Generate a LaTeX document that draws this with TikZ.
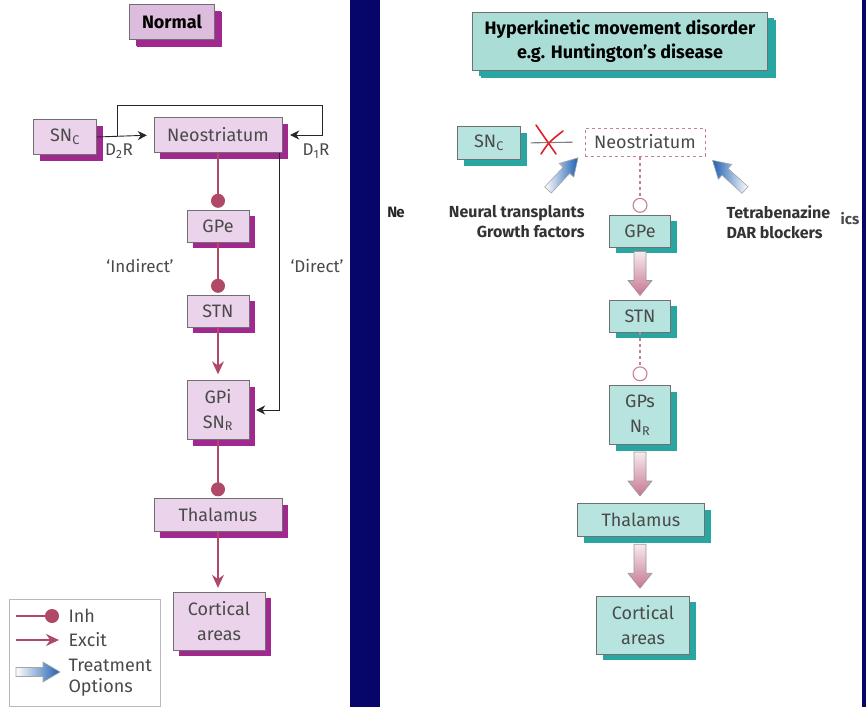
\documentclass[tikz,border=0pt]{standalone}
\usepackage{fontspec}
\setmainfont{Fira Sans}
\usetikzlibrary{shadows,arrows.meta,calc}
\definecolor{lilac}{HTML}{EBD4EB}
\definecolor{lilactop}{HTML}{DDBDDD}
\definecolor{lilacdark}{HTML}{A0288E}
\definecolor{aqua}{HTML}{B7E4DF}
\definecolor{aquatop}{HTML}{A9DDD6}
\definecolor{aquadark}{HTML}{2AA6A2}
\definecolor{rose}{HTML}{B04868}
\definecolor{rosedeep}{HTML}{C87590}
\definecolor{tblue}{HTML}{1F5FB0}
\definecolor{navy}{HTML}{06066A}
\definecolor{boxline}{HTML}{707070}
\definecolor{labelgray}{HTML}{4A4A4A}
\definecolor{crossred}{HTML}{E0202A}

\begin{document}
\begin{tikzpicture}[x=1pt,y=-1pt,font=\fontsize{18}{25}\selectfont]
\tikzstyle{pbox}=[draw=boxline,fill=lilac,text=labelgray,align=center,inner sep=0pt,
  drop shadow={shadow xshift=6pt,shadow yshift=-6pt,fill=lilacdark,opacity=1}]
\tikzstyle{abox}=[draw=boxline,fill=aqua,text=labelgray,align=center,inner sep=0pt,
  drop shadow={shadow xshift=6pt,shadow yshift=-6pt,fill=aquadark,opacity=1}]
\tikzstyle{inh}=[draw=rose,line width=1.3pt,-{Circle[length=14pt,fill=rose]},shorten >=2pt]
\tikzstyle{exc}=[draw=rose,line width=1.3pt,-{Stealth[length=13pt,width=12pt]}]
\tikzstyle{feed}=[draw=black!85,line width=0.9pt,-{Stealth[length=9pt,width=9pt]}]
\tikzstyle{lost}=[draw=rose!70,dashed,line width=1.1pt,-{Circle[open,length=15pt,width=15pt,fill=white]},shorten >=2pt]
\tikzstyle{note}=[text=labelgray,font=\fontsize{17}{20}\selectfont]
\tikzstyle{cure}=[font=\fontsize{16}{20}\selectfont\bfseries,text=black!80]
\tikzset{
  pics/treat/.style={code={
    \shade[#1,draw=gray!70,line width=0.6pt] (0,-4.5) -- (27,-4.5) -- (27,-10) -- (44,0)
      -- (27,10) -- (27,4.5) -- (0,4.5) -- cycle;}},
  pics/fat/.style={code={
    \shade[top color=white!85!rosedeep,bottom color=rosedeep,draw=gray!80,line width=0.6pt]
      (-6,-22) -- (6,-22) -- (6,7) -- (12,7) -- (0,22) -- (-12,7) -- (-6,7) -- cycle;}}
}
\fill[white] (0,0) rectangle (866,707);
\useasboundingbox (0,0) rectangle (866,707);
\fill[navy] (350,0) rectangle (380,707);
\fill[navy] (862,0) rectangle (866,707);

% normal
\node[pbox,fill=lilactop,text=black,font=\fontsize{18}{20}\selectfont\bfseries,minimum width=85pt,minimum height=35pt,
  drop shadow={shadow xshift=7pt,shadow yshift=-7pt,fill=lilacdark,opacity=1}] (normal) at (172,22) {Normal};
\node[pbox,minimum width=63pt,minimum height=35pt] (snc) at (65,137) {SN\textsubscript{C}};
\node[pbox,minimum width=128pt,minimum height=35pt] (neo) at (218,135) {Neostriatum};
\node[pbox,minimum width=62pt,minimum height=32pt] (gpe) at (218,226) {GPe};
\node[pbox,minimum width=62pt,minimum height=32pt] (stn) at (218,311) {STN};
\node[pbox,minimum width=62pt,minimum height=59pt] (gpi) at (218,410) {GPi\\SN\textsubscript{R}};
\node[pbox,minimum width=128pt,minimum height=33pt] (thal) at (218,515) {Thalamus};
\node[pbox,minimum width=92pt,minimum height=58pt] (cort) at (219,621) {Cortical\\areas};

\coordinate (split) at (117,136);
\coordinate (looptop) at (322,105);
\draw[feed,shorten >=7pt] (snc.east) -- (neo.west);
\draw[feed,shorten >=8pt] (split) |- (looptop) |- (neo.east);
\draw[feed,shorten >=7pt] ([xshift=-3pt]neo.south east) |- (gpi.east);
\node[note] (d2) at (119,151) {D\textsubscript{2}R};
\node[note] (d1) at (316,151) {D\textsubscript{1}R};
\node[note] (indir) at (140,266) {‘Indirect’};
\node[note] (dir) at (317,266) {‘Direct’};

\draw[inh] (neo.south) -- (gpe.north);
\draw[inh] (gpe.south) -- (stn.north);
\draw[exc,shorten >=6pt] (stn.south) -- (gpi.north);
\draw[inh] (gpi.south) -- (thal.north);
\draw[exc,shorten >=4pt] (thal.south) -- (thal.south |- cort.north);

% legend
\node[draw=gray!55,line width=0.8pt,minimum width=151pt,minimum height=107pt] (legend) at (84.5,652.5) {};
\node[anchor=west,text=labelgray] (linh) at (65,616) {Inh};
\node[anchor=west,text=labelgray] (lexc) at (65,640) {Excit};
\node[anchor=west,text=labelgray,align=left,font=\fontsize{18}{21}\selectfont] (ltreat) at (65,678) {Treatment\\Options};
\draw[inh,shorten >=6pt] ($(linh.west)+(-49,0)$) -- (linh.west);
\draw[exc,shorten >=6pt] ($(lexc.west)+(-49,0)$) -- (lexc.west);
\pic at (16,672) {treat={left color=white,right color=tblue}};

% leftovers of the slide below
\node[font=\fontsize{15}{16}\selectfont\bfseries,text=black!85] (ne) at (396,212) {N\kern-1pt e};
\node[font=\fontsize{15}{16}\selectfont\bfseries,text=labelgray] (ics) at (850,219) {ics};

% hyperkinetic
\node[abox,fill=aquatop,text=black,font=\fontsize{18}{24}\selectfont\bfseries,minimum width=295pt,minimum height=58pt,
  drop shadow={shadow xshift=8pt,shadow yshift=-8pt,fill=aquadark,opacity=1}] (hyper) at (620,41)
  {Hyperkinetic movement disorder\\e.g. Huntington's disease};
\node[abox,minimum width=63pt,minimum height=33pt] (snc2) at (489,143) {SN\textsubscript{C}};
\node[draw=rose!70,dashed,line width=1pt,text=labelgray,minimum width=120pt,minimum height=28pt,inner sep=0pt] (neo2) at (645,142) {Neostriatum};
\node[abox,minimum width=61pt,minimum height=32pt] (gpe2) at (640,231) {GPe};
\node[abox,minimum width=61pt,minimum height=32pt] (stn2) at (640,316) {STN};
\node[abox,minimum width=61pt,minimum height=59pt] (gps2) at (640,415) {GPs\\N\textsubscript{R}};
\node[abox,minimum width=127pt,minimum height=33pt] (thal2) at (641,520) {Thalamus};
\node[abox,minimum width=93pt,minimum height=58pt] (cort2) at (643,625) {Cortical\\areas};

\draw[gray,line width=1.1pt,shorten <=10pt,shorten >=12pt] (snc2.east) -- (neo2.west);
\draw[crossred,line width=1.6pt,line cap=round] (536,125) -- (556,154);
\draw[crossred,line width=1.6pt,line cap=round] (541,154) .. controls (549,142) .. (563,131);

\draw[lost] (neo2.south -| gpe2.north) -- (gpe2.north);
\draw[lost,shorten >=4pt] (stn2.south) -- (gps2.north);
\pic at ($(gpe2.south)!.5!(stn2.north)$) {fat};
\pic at ($(gps2.south)!.5!(gps2.south |- thal2.north)$) {fat};
\pic at ($(gps2.south |- thal2.south)!.5!(gps2.south |- cort2.north)$) {fat};

\pic[rotate=47] at (548,190) {treat={left color=white,right color=tblue}};
\pic[rotate=137.6] at (745,190) {treat={left color=tblue,right color=white}};
\node[cure,anchor=east,align=right] (graft) at (588,222) {Neural transplants\\Growth factors};
\node[cure,anchor=west,align=left] (drug) at (723,222) {Tetrabenazine\\DAR blockers};
\end{tikzpicture}
\end{document}
